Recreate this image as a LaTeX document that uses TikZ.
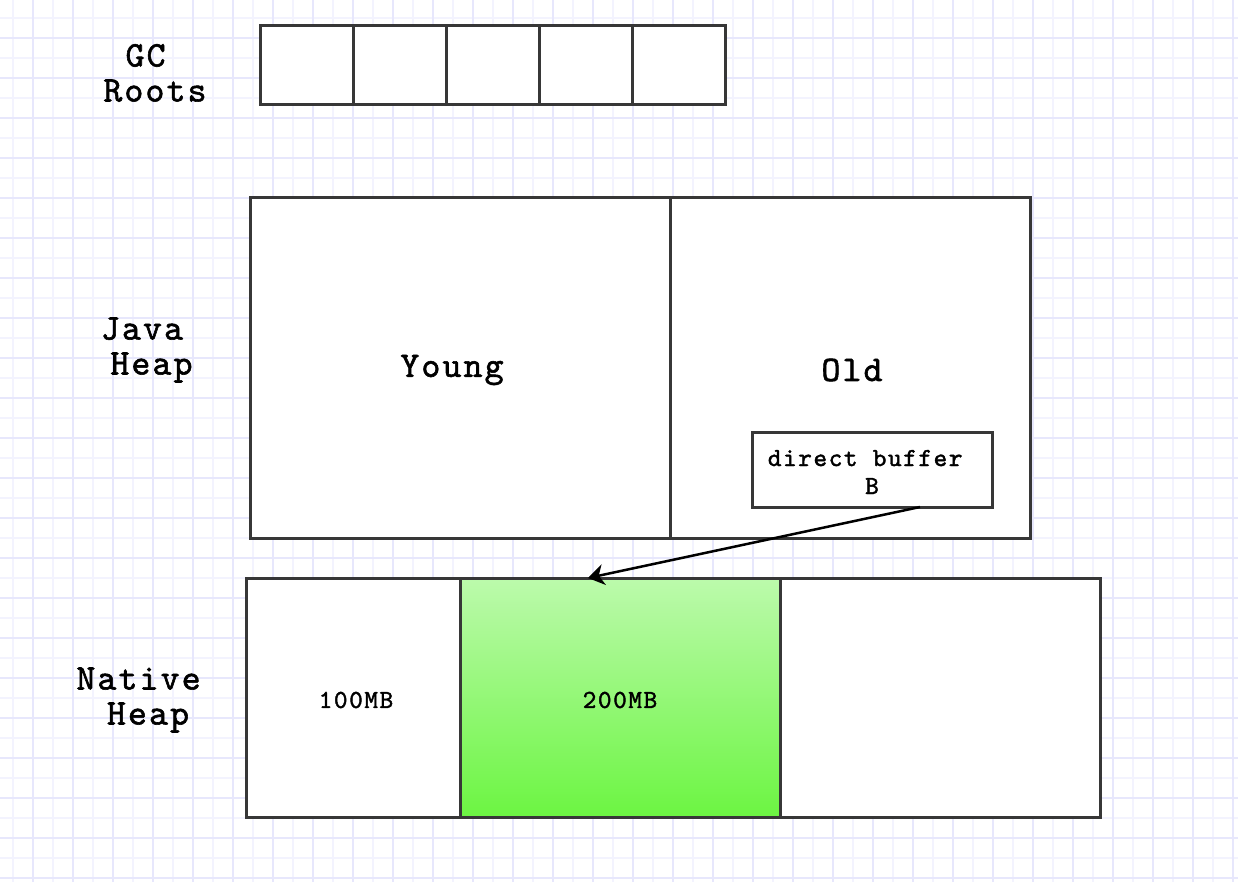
\documentclass[tikz,border=0pt]{standalone}
\usepackage{fontspec}
\newfontfamily\courfont{lmmono10-regular.otf}[FakeBold=1.6, LetterSpace=6]
\usetikzlibrary{calc,arrows.meta}

\definecolor{gridminor}{RGB}{243,243,254}
\definecolor{gridmajor}{RGB}{231,231,252}
\definecolor{edge}{RGB}{55,55,55}
\definecolor{greentop}{RGB}{188,250,172}
\definecolor{greenbot}{RGB}{108,245,66}

\tikzset{
  cell/.style={draw=edge, line width=3pt, fill=white, rectangle, inner sep=0pt, outer sep=0pt, anchor=north west},
  biglabel/.style={font=\courfont\fontsize{36}{35}\selectfont, align=center, inner sep=0pt},
  smalllabel/.style={font=\courfont\fontsize{26}{28}\selectfont, align=center, inner sep=0pt},
  pointer/.style={draw=black, line width=2.5pt, arrows={-Stealth[length=16pt, width=21pt, inset=5pt]}}
}

\begin{document}
\begin{tikzpicture}[x=1pt,y=-1pt]
  % canvas
  \useasboundingbox (0,0) rectangle (1238,882);
  \fill[white] (0,0) rectangle (1238,882);

  % background grid
  \foreach \k in {0,...,61} {
    \draw[gridminor, line width=1.4pt] ({13+20*\k},0) -- ({13+20*\k},882);
  }
  \foreach \k in {0,...,44} {
    \draw[gridminor, line width=1.4pt] (0,{18+20*\k}) -- (1238,{18+20*\k});
  }
  \foreach \k in {0,...,30} {
    \draw[gridmajor, line width=1.4pt] ({33+40*\k},0) -- ({33+40*\k},882);
  }
  \foreach \k in {1,...,22} {
    \draw[gridmajor, line width=1.4pt] (0,{-2+40*\k}) -- (1238,{-2+40*\k});
  }

  % GC roots: a row of five slots
  \node[cell, minimum width=93pt, minimum height=79pt] (r1) at (260,26) {};
  \node[cell, minimum width=93pt, minimum height=79pt] (r2) at (353,26) {};
  \node[cell, minimum width=93pt, minimum height=79pt] (r3) at (446,26) {};
  \node[cell, minimum width=93pt, minimum height=79pt] (r4) at (539,26) {};
  \node[cell, minimum width=93pt, minimum height=79pt] (r5) at (632,26) {};
  \node[biglabel] (lroots) at (155,73) {GC\hphantom{x}\\Roots};

  % Java heap: young and old generations
  \node[cell, minimum width=420pt, minimum height=340pt] (young) at (250,198) {};
  \node[cell, minimum width=360pt, minimum height=340pt] (old) at (670,198) {};
  \node[biglabel] (lyoung) at (452,370) {Young};
  \node[biglabel] (lold) at (852,370) {Old};
  \node[biglabel] (ljava) at (142,350) {Java\\\hphantom{x}Heap};

  % direct buffer object living in the old generation
  \node[cell, minimum width=240pt, minimum height=75pt] (db) at (752,432) {};
  \node[smalllabel] (ldb) at (872,472) {direct buffer\hphantom{x}\\B};

  % native heap
  \node[cell, minimum width=214pt, minimum height=239pt] (n100) at (246,578) {};
  \node[cell, minimum width=320pt, minimum height=239pt, top color=greentop, bottom color=greenbot] (n200) at (460,578) {};
  \node[cell, minimum width=320pt, minimum height=239pt] (nrest) at (780,578) {};
  \node[smalllabel] (l100) at (356,700) {100MB};
  \node[smalllabel] (l200) at (620,700) {200MB};
  \node[biglabel] (lnative) at (148,700) {Native\hphantom{x}\\Heap};

  % reference from the buffer object to its native memory
  \coordinate (src) at ($(db.south west)!0.7!(db.south east)$);
  \coordinate (dst) at ($(n200.north west)!0.4!(n200.north east)$);
  \draw[pointer] (src) -- (dst);
\end{tikzpicture}
\end{document}
